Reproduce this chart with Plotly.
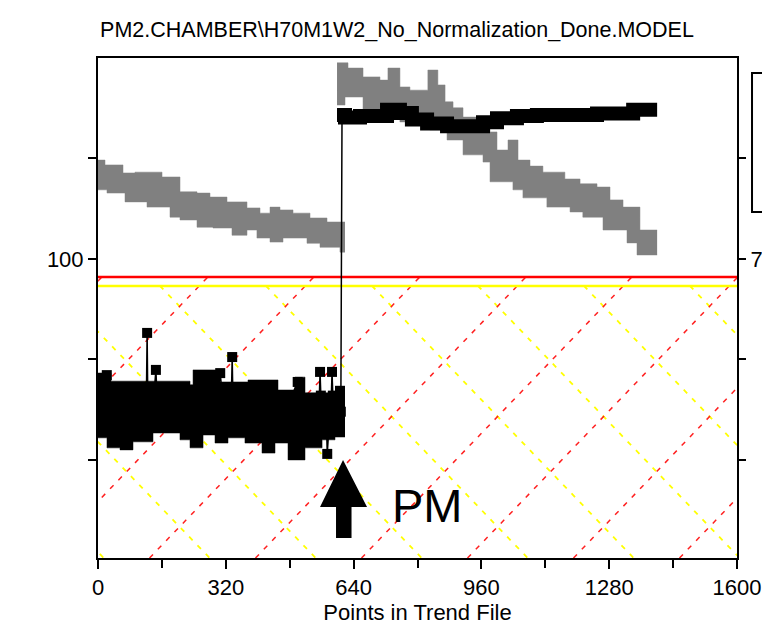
import plotly.graph_objects as go

# ---------------- data ----------------
TITLE = "PM2.CHAMBER\\H70M1W2_No_Normalization_Done.MODEL"
X_TITLE = "Points in Trend File"
X_TICKS = [0, 320, 640, 960, 1280, 1600]
X_MINOR = [160, 480, 800, 1120, 1440]
Y_TICKS = [50, 75, 100, 125]
Y_TICK_TEXT = ["", "", "100", ""]
Y2_TICK_TEXT = ["", "", "75", ""]
X_RANGE = [0, 1600]
Y_RANGE = [25.6, 150]

PM_X = 611            # point index where the PM happened
LIMIT_RED = 95.5      # upper limit line
LIMIT_YELLOW = 93.3   # warning line

# gray series: band of points before the PM (upper / lower edge)
gray1_hi_x = [0, 17.5, 62.6, 92.6, 160.3, 205.3, 247.9, 280.4, 323, 373, 405.6,
              430.7, 455.7, 488.3, 530.8, 573.4, 618.5]
gray1_hi = [124.6, 123.4, 121.4, 121.6, 120.4, 116.7, 116.4, 115.4, 114.2, 112.7,
            111.4, 112.9, 112.2, 111.4, 110.2, 109.2, 109.2]
gray1_lo_x = [0, 22.5, 67.6, 122.7, 180.3, 205.3, 247.9, 288, 335.5, 373, 398,
              430.7, 463.2, 523.3, 555.9, 605.9, 618.5]
gray1_lo = [117.2, 116.4, 114.2, 112.9, 110.4, 109.7, 107.9, 107.7, 105.9, 107.2,
            105.2, 104.2, 105.2, 103.9, 102.9, 101.7, 101.7]

# gray series after the PM
gray2_hi_x = [598.5, 626, 663.6, 706, 726, 756, 781, 826, 851, 869, 889, 914, 949,
              981.6, 999, 1026.6, 1051.7, 1081.7, 1114, 1169, 1207, 1249.5, 1282,
              1314.6, 1357, 1400]
gray2_hi = [148.8, 147.5, 145.3, 144.5, 147.5, 142.8, 142.0, 147.0, 143.3, 139.1,
            137.6, 135.3, 134.1, 131.6, 127.1, 129.6, 124.6, 123.1, 121.6, 119.9,
            118.7, 117.9, 114.7, 112.9, 107.2, 107.2]
gray2_lo_x = [598.5, 618.5, 663.6, 756, 831, 874, 914, 964, 981.6, 1039, 1064,
              1124, 1182, 1214, 1264.5, 1324.6, 1349.6, 1400]
gray2_lo = [138.3, 140.3, 136.6, 134.1, 132.1, 129.6, 125.9, 124.1, 119.2, 117.2,
            115.2, 112.9, 111.7, 110.4, 107.2, 104.0, 101.0, 101.0]

# black series before the PM: dense cluster (edges) + individual points
black1_hi_x = [0, 32.6, 230.4, 238, 305.5, 375.6, 450.7, 493.3, 518.3, 618.5]
black1_hi = [71.6, 69.6, 68.7, 72.4, 69.4, 69.9, 67.4, 70.6, 66.7, 66.7]
black1_lo_x = [0, 22.5, 55.1, 87.6, 137.7, 205.3, 230.4, 263, 293, 325.5, 368,
               410.7, 443.2, 475.8, 518.3, 561, 593.4, 618.5]
black1_lo = [55.5, 53.0, 52.5, 54.5, 56.7, 55.0, 53.0, 56.2, 54.2, 55.5, 54.2,
             51.7, 54.2, 50.0, 53.0, 55.0, 55.7, 55.7]
black1_x = [5, 13, 22, 35, 50, 65, 80, 95, 110, 121, 123, 125, 140, 145, 150, 165,
            180, 195, 210, 225, 240, 255, 270, 285, 300, 306, 315, 330, 334, 336,
            338, 350, 365, 380, 395, 410, 425, 440, 455, 470, 485, 500, 515, 530,
            545, 554, 556, 558, 566, 572, 574, 580, 584, 586, 588, 596, 604, 606,
            608, 611]
black1_y = [62, 70.4, 71.1, 60, 65, 57, 63, 59, 66, 64, 81.6, 62, 66, 72.4, 60, 64,
            58, 66, 61, 63, 57, 65, 60, 64, 66, 71.6, 62, 65, 66, 75.6,
            64, 60, 66, 58, 63, 61, 65, 57, 63, 60, 66, 69.4, 62, 58,
            64, 65, 71.9, 66, 63, 60, 51.5, 61, 65, 71.9, 66, 63, 65, 67.2,
            62, 135.8]

# black series after the PM
black2_x = [598.5, 618.5, 656, 723.7, 756, 786, 824, 874, 964, 999, 1049, 1099,
            1249.5, 1340, 1400]
black2_y = [135.8, 135.2, 135.6, 137.1, 136.3, 134.7, 133.7, 133.0, 134.0, 135.0,
            135.6, 135.8, 136.2, 137.1, 137.1]

# diagonal hatch below the limits
HATCH_PERIOD = 265.4
HATCH_SLOPE = 0.1033
RED_HATCH_START = 129.0
YELLOW_HATCH_START = 155.0

FONT = "Liberation Sans, Arial, sans-serif"
GRAY = "#808080"

fig = go.Figure()

# hatch lines
rx, ry, yx, yy = [], [], [], []
for k in range(-4, 8):
    b = RED_HATCH_START + k * HATCH_PERIOD
    rx += [b, b + (LIMIT_RED - Y_RANGE[0]) / HATCH_SLOPE, None]
    ry += [Y_RANGE[0], LIMIT_RED, None]
    t = YELLOW_HATCH_START + k * HATCH_PERIOD
    yx += [t, t + (LIMIT_YELLOW - Y_RANGE[0]) / HATCH_SLOPE, None]
    yy += [LIMIT_YELLOW, Y_RANGE[0], None]
fig.add_trace(go.Scatter(x=yx, y=yy, mode="lines", hoverinfo="skip",
                         line=dict(color="#ffff00", width=1.8, dash="5px,7px")))
fig.add_trace(go.Scatter(x=rx, y=ry, mode="lines", hoverinfo="skip",
                         line=dict(color="#ff2020", width=1.5, dash="5px,7px")))

# limit lines
fig.add_trace(go.Scatter(x=X_RANGE, y=[LIMIT_RED, LIMIT_RED], mode="lines",
                         line=dict(color="#ff0000", width=2.5)))
fig.add_trace(go.Scatter(x=X_RANGE, y=[LIMIT_YELLOW, LIMIT_YELLOW], mode="lines",
                         line=dict(color="#ffff00", width=2.5)))


def band(xh, yh, xl, yl, color):
    fig.add_trace(go.Scatter(x=xh, y=yh, mode="lines", line_shape="hv",
                             line=dict(color=color, width=0.5)))
    fig.add_trace(go.Scatter(x=xl, y=yl, mode="lines", line_shape="hv",
                             line=dict(color=color, width=0.5),
                             fill="tonexty", fillcolor=color))


# gray series
band(gray1_hi_x, gray1_hi, gray1_lo_x, gray1_lo, GRAY)
band(gray2_hi_x, gray2_hi, gray2_lo_x, gray2_lo, GRAY)

# black series
band(black1_hi_x, black1_hi, black1_lo_x, black1_lo, "#000000")
fig.add_trace(go.Scatter(x=black1_x, y=black1_y, mode="lines+markers",
                         line=dict(color="#000000", width=1.5),
                         marker=dict(symbol="square", size=10, color="#000000")))
fig.add_trace(go.Scatter(x=black2_x, y=black2_y, mode="lines", line_shape="hv",
                         line=dict(color="#000000", width=14)))

# secondary (right) axis holder
fig.add_trace(go.Scatter(x=[None], y=[None], yaxis="y2", showlegend=False))

# PM arrow and label
fig.add_shape(type="path", xref="x", yref="paper", xsizemode="pixel",
              ysizemode="pixel", xanchor=PM_X, yanchor=0,
              path="M 1 98 L 25 51 L 9.5 51 L 9.5 20 L -6 20 L -6 51 L -22 51 Z",
              fillcolor="#000000", line=dict(color="#000000", width=0))
fig.add_annotation(x=PM_X, y=0.105, xref="x", yref="paper", text="PM",
                   showarrow=False, xanchor="left", yanchor="middle", xshift=48,
                   font=dict(family=FONT, size=47, color="#000000"))

# legend frame (cut at the right edge)
fig.add_shape(type="rect", xref="paper", yref="paper", x0=1.0235, x1=1.08,
              y0=0.692, y1=0.97, line=dict(color="#000000", width=2),
              fillcolor="white", layer="above")

axis_common = dict(showgrid=False, zeroline=False, ticks="outside", tickwidth=2,
                   tickcolor="#000000", linecolor="#000000", linewidth=2,
                   automargin=False,
                   tickfont=dict(family=FONT, size=22, color="#000000"))

fig.update_layout(
    width=762, height=627,
    margin=dict(l=98, r=25, t=58, b=69, autoexpand=False),
    paper_bgcolor="white", plot_bgcolor="white",
    showlegend=False,
    font=dict(family=FONT, size=22, color="#000000"),
    title=dict(text=TITLE, x=0.521, xanchor="center", y=0.953, yanchor="middle",
               font=dict(family=FONT, size=21.5, color="#000000")),
    xaxis=dict(range=X_RANGE, tickvals=X_TICKS, ticklen=9, showline=True,
               mirror=True,
               minor=dict(tickvals=X_MINOR, ticks="outside", ticklen=8,
                          tickwidth=2, tickcolor="#000000"),
               title=dict(text=X_TITLE, standoff=4,
                          font=dict(family=FONT, size=22, color="#000000")),
               **axis_common),
    yaxis=dict(range=Y_RANGE, tickvals=Y_TICKS, ticktext=Y_TICK_TEXT, ticklen=8,
               showline=True, mirror=True, **axis_common),
    yaxis2=dict(range=Y_RANGE, tickvals=Y_TICKS, ticktext=Y2_TICK_TEXT, ticklen=8,
                overlaying="y", side="right", showline=False, **axis_common),
)

fig.write_html("out.html",
               config={"displayModeBar": False},
               post_script="document.body.style.margin='0';"
                           "document.body.style.overflow='hidden';")
